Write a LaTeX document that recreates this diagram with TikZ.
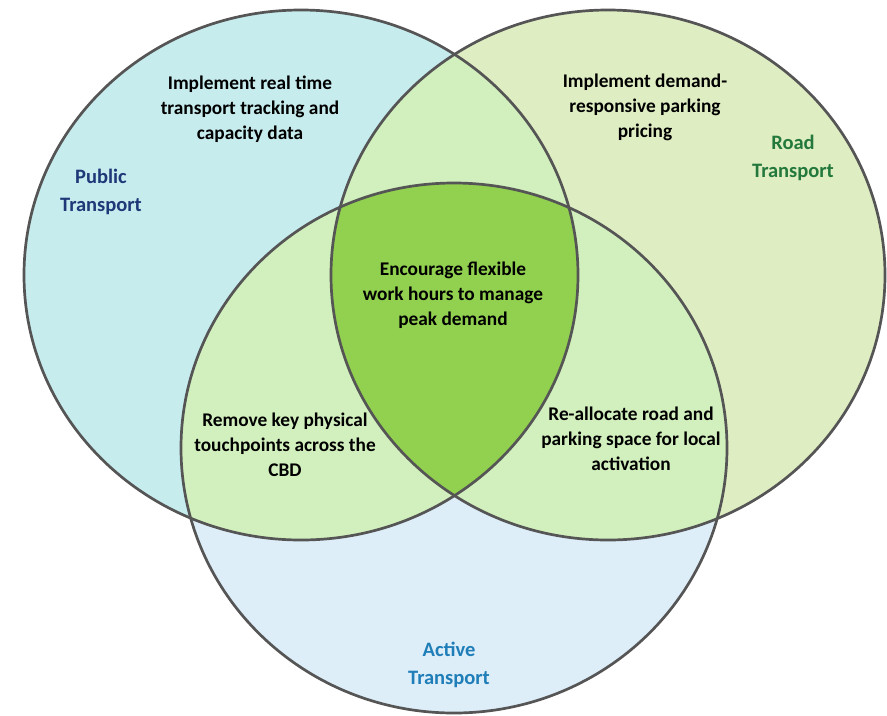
\documentclass[tikz,border=0pt]{standalone}
\usepackage{fontspec}
\setmainfont{Carlito}
\usetikzlibrary{positioning}
\definecolor{pubfill}{HTML}{C7ECEE}
\definecolor{roadfill}{HTML}{DFEDC2}
\definecolor{actfill}{HTML}{DDEEF9}
\definecolor{pairfill}{HTML}{D2F0BE}
\definecolor{corefill}{HTML}{92D050}
\definecolor{ringgray}{HTML}{555555}
\definecolor{pubtext}{HTML}{1F3878}
\definecolor{roadtext}{HTML}{23783C}
\definecolor{acttext}{HTML}{1F7EB8}
\def\pubset{(301,275) ellipse [x radius=277, y radius=265]}
\def\roadset{(608,275) ellipse [x radius=277, y radius=265]}
\def\actset{(454,448) ellipse [x radius=273, y radius=265]}

\begin{document}
\begin{tikzpicture}[x=0.03cm,y=-0.03cm,
  txt/.style={font=\fontsize{16.5}{21.3}\selectfont\bfseries, align=center, inner sep=0pt},
  cat/.style={font=\fontsize{17.5}{23.9}\selectfont\bfseries, align=center, inner sep=0pt},
  ring/.style={draw=ringgray, line width=2.3pt}]
\useasboundingbox (0,0) rectangle (887,715);
% sets
\fill[pubfill] \pubset;
\fill[roadfill] \roadset;
\fill[actfill] \actset;
% pairwise overlaps
\begin{scope}
  \clip \pubset;
  \fill[pairfill] \roadset;
  \fill[pairfill] \actset;
\end{scope}
\begin{scope}
  \clip \roadset;
  \fill[pairfill] \actset;
\end{scope}
% core
\begin{scope}
  \clip \pubset;
  \clip \roadset;
  \fill[corefill] \actset;
\end{scope}
\draw[ring] \pubset;
\draw[ring] \roadset;
\draw[ring] \actset;

% set names
\node[cat, text=pubtext] (pub) at (101,192) {Public\\Transport};
\node[cat, text=roadtext] (road) at (793,158) {Road\\Transport};
\node[cat, text=acttext] (act) at (449,665) {Active\\Transport};

% actions
\node[txt] (tracking) at (250,109) {Implement real time\\transport tracking and\\capacity data};
\node[txt] (pricing) at (645,107) {Implement demand-\\responsive parking\\pricing};
\node[txt] (hours) at (453,295) {Encourage flexible\\work hours to manage\\peak demand};
\node[txt] (touch) at (285,445) {Remove key physical\\touchpoints across the\\CBD};
\node[txt] (space) at (631,439) {Re-allocate road and\\parking space for local\\activation};
\end{tikzpicture}
\end{document}
